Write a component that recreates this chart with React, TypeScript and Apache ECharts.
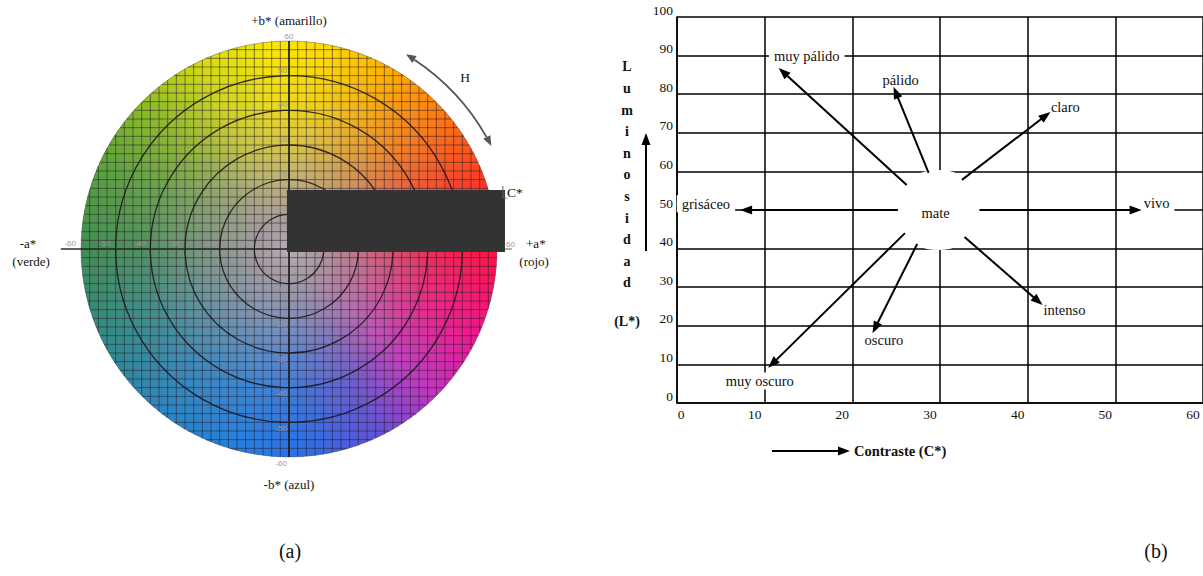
import React, { useEffect, useRef } from "react";
import * as echarts from "echarts";

const SERIF = '"Liberation Serif", "Times New Roman", serif';

// ---------- (a) a*b* chromaticity plane ----------
const abLimit = 60;
const abCell = 2.5;
const chromaRings = [10, 20, 30, 40, 50];
const abTicks = [10, 20, 30, 40, 50, 60];
const neutralTone = "#a69ca1";
// hue angle (degrees, counter-clockwise from +a*) -> saturated colour at the rim
const hueStops: [number, string][] = [
  [0, "#ff1242"],
  [20, "#ff3a22"],
  [40, "#ff7410"],
  [60, "#ffae00"],
  [80, "#ffdc00"],
  [95, "#fbe900"],
  [115, "#d4dc12"],
  [135, "#8cbc22"],
  [155, "#5aa43a"],
  [180, "#3f8e52"],
  [205, "#2f8c86"],
  [230, "#2a86bc"],
  [255, "#2280e2"],
  [275, "#2a6ee6"],
  [295, "#5e52d8"],
  [315, "#c232c2"],
  [335, "#f0168e"],
  [360, "#ff1242"],
];
// radial fraction -> share of the rim colour
const chromaRamp: [number, number][] = [
  [0, 0],
  [0.12, 0],
  [0.33, 0.28],
  [0.5, 0.55],
  [0.7, 0.82],
  [1, 1],
];

// ---------- (b) lightness / chroma tone diagram ----------
const toneNames = ["grisáceo", "vivo", "muy pálido", "pálido", "claro", "intenso", "oscuro", "muy oscuro"];
const arrowFrom: [number, number][] = [
  [25.2, 50],
  [34.5, 50],
  [26.2, 56.5],
  [28.7, 59.6],
  [32.5, 57.8],
  [32.8, 43.0],
  [27.4, 41.2],
  [26.0, 44.0],
];
const arrowTo: [number, number][] = [
  [7.2, 50],
  [53.0, 50],
  [11.6, 86.8],
  [24.7, 81.9],
  [42.6, 75.4],
  [41.7, 25.4],
  [22.3, 18.1],
  [10.4, 9.1],
];
const toneLabelAt: [number, number][] = [
  [3.3, 51.6],
  [54.7, 51.8],
  [14.8, 90],
  [25.5, 83.7],
  [44.3, 76.7],
  [44.2, 24.1],
  [23.6, 16.3],
  [9.45, 5.7],
];
const mateAt: [number, number] = [29.8, 50];
const mateLabelAt: [number, number] = [29.5, 49.2];

type RGB = [number, number, number];
const rgbOf = (h: string): RGB => {
  const n = parseInt(h.slice(1), 16);
  return [(n >> 16) & 255, (n >> 8) & 255, n & 255];
};
const lerp = (a: RGB, b: RGB, t: number): RGB => [
  a[0] + (b[0] - a[0]) * t,
  a[1] + (b[1] - a[1]) * t,
  a[2] + (b[2] - a[2]) * t,
];
const css = (c: RGB) => `rgb(${Math.round(c[0])},${Math.round(c[1])},${Math.round(c[2])})`;
const hueColor = (deg: number): RGB => {
  for (let i = 1; i < hueStops.length; i++) {
    const [d1, c1] = hueStops[i];
    const [d0, c0] = hueStops[i - 1];
    if (deg <= d1) return lerp(rgbOf(c0), rgbOf(c1), (deg - d0) / (d1 - d0));
  }
  return rgbOf(hueStops[0][1]);
};

const gridInk = "rgba(45,30,45,0.55)";
const ringInk = "rgba(25,20,25,0.85)";
const tickInk = "#9a9a9a";

function renderWheel(_p: any, api: any) {
  const c = api.coord([0, 0]);
  const R = api.coord([abLimit, 0])[0] - c[0];
  const u = R / abLimit;
  const kids: any[] = [];
  const neutral = rgbOf(neutralTone);

  // colour disc: thin angular slices, each shaded from the neutral centre to its hue
  const N = 180;
  const step = (Math.PI * 2) / N;
  for (let i = 0; i < N; i++) {
    const phi0 = i * step;
    const mid = phi0 + step / 2;
    const hue = ((((-mid * 180) / Math.PI) % 360) + 360) % 360;
    const rim = hueColor(hue);
    const stops = chromaRamp.map(([o, t]) => ({ offset: o, color: css(lerp(neutral, rim, t)) }));
    kids.push({
      type: "sector",
      shape: { cx: c[0], cy: c[1], r0: 0, r: R, startAngle: phi0, endAngle: phi0 + step * 1.6, clockwise: true },
      style: { fill: new echarts.graphic.RadialGradient(c[0], c[1], R, stops, true) },
    });
  }

  // fine square grid clipped to the disc
  for (let k = -abLimit + abCell; k < abLimit - 1e-6; k += abCell) {
    const h = Math.sqrt(abLimit * abLimit - k * k);
    const a = api.coord([k, -h]);
    const b = api.coord([k, h]);
    kids.push({ type: "line", shape: { x1: a[0], y1: a[1], x2: b[0], y2: b[1] }, style: { stroke: gridInk, lineWidth: 1 } });
    const d = api.coord([-h, k]);
    const e = api.coord([h, k]);
    kids.push({ type: "line", shape: { x1: d[0], y1: d[1], x2: e[0], y2: e[1] }, style: { stroke: gridInk, lineWidth: 1 } });
  }

  // chroma rings and rim
  chromaRings.forEach((v) => {
    kids.push({ type: "circle", shape: { cx: c[0], cy: c[1], r: v * u }, style: { fill: "none", stroke: ringInk, lineWidth: 1.3 } });
  });
  kids.push({ type: "circle", shape: { cx: c[0], cy: c[1], r: R }, style: { fill: "none", stroke: "rgba(90,80,90,0.55)", lineWidth: 0.8 } });

  // a* and b* axes
  const top = api.coord([0, abLimit]);
  const bot = api.coord([0, -abLimit]);
  kids.push({ type: "line", shape: { x1: top[0], y1: top[1], x2: bot[0], y2: bot[1] }, style: { stroke: "#1c1c1c", lineWidth: 1.6 } });
  const left = api.coord([-65.8, 0]);
  const right = api.coord([abLimit, 0]);
  const rightEnd = api.coord([64.3, 0]);
  kids.push({ type: "line", shape: { x1: left[0], y1: left[1], x2: right[0], y2: right[1] }, style: { stroke: "#2a2a2a", lineWidth: 1.6 } });
  kids.push({ type: "line", shape: { x1: right[0], y1: right[1], x2: rightEnd[0], y2: rightEnd[1] }, style: { stroke: "#9a9a9a", lineWidth: 1.6 } });

  // small grey scale numbers
  const tick = (text: string, p: number[], align: string, vAlign: string) =>
    kids.push({
      type: "text",
      x: p[0],
      y: p[1],
      style: { text, fill: tickInk, fontSize: 8, fontFamily: "Arial, sans-serif", align, verticalAlign: vAlign, textAlign: align, textVerticalAlign: vAlign },
    });
  abTicks.forEach((v) => {
    const pb = api.coord([0, v]);
    tick(String(v), v === abLimit ? [pb[0], pb[1] - 1] : [pb[0] - 2, pb[1] - 1.5], v === abLimit ? "center" : "right", "bottom");
    const nb = api.coord([0, -v]);
    tick(String(-v), [nb[0] - 2, nb[1] + 2], "right", "top");
    const na = api.coord([-v, 0]);
    tick(String(-v), [na[0] - 5, na[1] - 2], "right", "bottom");
    const pa = api.coord([v, 0]);
    tick(String(v), v === abLimit ? [pa[0] + 9, pa[1] - 1] : [pa[0] - 5, pa[1] - 2], v === abLimit ? "left" : "right", "bottom");
  });

  // dark box over the right half
  const r1 = api.coord([-0.6, 17.0]);
  const r2 = api.coord([62.3, -0.9]);
  kids.push({ type: "rect", shape: { x: r1[0], y: r1[1], width: r2[0] - r1[0], height: r2[1] - r1[1] }, style: { fill: "#333333" } });
  const k1 = api.coord([61.7, 18.2]);
  const k2 = api.coord([61.7, 14.7]);
  const k3 = api.coord([62.7, 14.7]);
  kids.push({ type: "polyline", shape: { points: [k1, k2, k3] }, style: { stroke: "#666", lineWidth: 1, fill: "none" } });

  // hue arrow (double headed arc)
  const ar = 65.5 * u;
  const hFrom = 27;
  const hTo = 59;
  const rad = (d: number) => (d * Math.PI) / 180;
  const headLen = 10;
  const dA = (headLen / ar) * (180 / Math.PI);
  kids.push({
    type: "arc",
    shape: { cx: c[0], cy: c[1], r: ar, startAngle: -rad(hTo - dA), endAngle: -rad(hFrom + dA), clockwise: true },
    style: { stroke: "#555", lineWidth: 1.8, fill: "none" },
  });
  const head = (deg: number, sign: number) => {
    const t = rad(deg);
    const tip = [c[0] + ar * Math.cos(t), c[1] - ar * Math.sin(t)];
    const dir = [-Math.sin(t) * sign, -Math.cos(t) * sign];
    const base = [tip[0] - dir[0] * headLen, tip[1] - dir[1] * headLen];
    const n = [dir[1], -dir[0]];
    kids.push({
      type: "polygon",
      shape: { points: [tip, [base[0] + n[0] * 4, base[1] + n[1] * 4], [base[0] - n[0] * 4, base[1] - n[1] * 4]] },
      style: { fill: "#555" },
    });
  };
  head(hTo, 1);
  head(hFrom, -1);

  // axis captions
  const note = (text: string, at: number[], align = "center", size = 13) => {
    const p = api.coord(at);
    kids.push({
      type: "text",
      x: p[0],
      y: p[1],
      style: { text, fill: "#111", fontSize: size, fontFamily: SERIF, align, verticalAlign: "middle", textAlign: align, textVerticalAlign: "middle" },
    });
  };
  note("+b* (amarillo)", [0, 66.05]);
  note("-b* (azul)", [0, -67.8]);
  note("-a*", [-75.3, 1.7]);
  note("(verde)", [-74.4, -3.5]);
  note("+a*", [71.2, 1.7]);
  note("(rojo)", [70.7, -3.5]);
  note("H", [50.8, 49.6], "center", 13.5);
  note("C*", [62.9, 16.4], "left", 13.5);

  return { type: "group", children: kids };
}

function renderArrow(_p: any, api: any) {
  const a = api.coord([api.value(0), api.value(1)]);
  const b = api.coord([api.value(2), api.value(3)]);
  const dx = b[0] - a[0];
  const dy = b[1] - a[1];
  const len = Math.hypot(dx, dy);
  const ux = dx / len;
  const uy = dy / len;
  const headLen = 12;
  const half = 4.5;
  const base = [b[0] - ux * headLen, b[1] - uy * headLen];
  return {
    type: "group",
    children: [
      { type: "line", shape: { x1: a[0], y1: a[1], x2: base[0] + ux * 2, y2: base[1] + uy * 2 }, style: { stroke: "#000", lineWidth: 2 } },
      {
        type: "polygon",
        shape: { points: [b, [base[0] - uy * half, base[1] + ux * half], [base[0] + uy * half, base[1] - ux * half]] },
        style: { fill: "#000" },
      },
    ],
  };
}

export default function App() {
  const ref = useRef<HTMLDivElement>(null);

  useEffect(() => {
    if (!ref.current) return;
    const chart = echarts.init(ref.current, undefined, { renderer: "svg" });
    const tickFont = { fontFamily: SERIF, fontSize: 13.5, color: "#111" };

    chart.setOption({
      animation: false,
      backgroundColor: "#ffffff",
      grid: [
        { left: 81, top: 41, width: 416, height: 416 },
        { left: 677, top: 17, width: 527, height: 386 },
      ],
      xAxis: [
        { gridIndex: 0, type: "value", min: -abLimit, max: abLimit, show: false },
        {
          gridIndex: 1,
          type: "value",
          min: 0,
          max: 60,
          interval: 10,
          axisLine: { show: true, lineStyle: { color: "#000", width: 1.5 } },
          axisTick: { show: false },
          splitLine: { show: true, lineStyle: { color: "#000", width: 1.5 } },
          axisLabel: {
            margin: 4,
            showMinLabel: true,
            showMaxLabel: true,
            ...tickFont,
            formatter: (v: number) => (v === 0 ? `{z|${v}}` : `{n|${v}}`),
            rich: {
              z: { ...tickFont, padding: [0, 0, 0, 8] },
              n: { ...tickFont, padding: [0, 20, 0, 0] },
            },
          },
        },
      ],
      yAxis: [
        { gridIndex: 0, type: "value", min: -abLimit, max: abLimit, show: false },
        {
          gridIndex: 1,
          type: "value",
          min: 0,
          max: 100,
          interval: 10,
          axisLine: { show: true, lineStyle: { color: "#000", width: 1.5 } },
          axisTick: { show: false },
          splitLine: { show: true, lineStyle: { color: "#000", width: 1.5 } },
          axisLabel: { margin: 4, verticalAlign: "bottom", showMinLabel: true, showMaxLabel: true, ...tickFont },
        },
      ],
      series: [
        {
          type: "custom",
          name: "a*b*",
          coordinateSystem: "cartesian2d",
          xAxisIndex: 0,
          yAxisIndex: 0,
          clip: false,
          silent: true,
          data: [[0, 0]],
          renderItem: renderWheel,
        },
        {
          type: "scatter",
          name: "mate-area",
          xAxisIndex: 1,
          yAxisIndex: 1,
          z: 3,
          silent: true,
          symbol: "circle",
          symbolSize: [94, 80],
          itemStyle: { color: "#ffffff", opacity: 1 },
          data: [mateAt],
        },
        {
          type: "scatter",
          name: "tonos",
          xAxisIndex: 1,
          yAxisIndex: 1,
          z: 4,
          silent: true,
          symbolSize: 1,
          itemStyle: { color: "rgba(0,0,0,0)", opacity: 1 },
          label: {
            show: true,
            position: "inside",
            formatter: "{b}",
            fontFamily: SERIF,
            fontSize: 14.5,
            color: "#111",
            opacity: 1,
            backgroundColor: "#ffffff",
            padding: [1, 5],
          },
          data: [
            ...toneNames.map((n, i) => ({ name: n, value: toneLabelAt[i] })),
            { name: "mate", value: mateLabelAt },
          ],
        },
        {
          type: "custom",
          name: "flechas",
          coordinateSystem: "cartesian2d",
          xAxisIndex: 1,
          yAxisIndex: 1,
          z: 5,
          clip: false,
          silent: true,
          encode: { x: [0, 2], y: [1, 3] },
          data: toneNames.map((_, i) => [...arrowFrom[i], ...arrowTo[i]]),
          renderItem: renderArrow,
        },
      ],
      graphic: [
        {
          type: "text",
          x: 627,
          y: 56,
          style: {
            text: "L\nu\nm\ni\nn\no\ns\ni\nd\na\nd",
            font: `bold 14px ${SERIF}`,
            lineHeight: 21.6,
            fill: "#111",
            align: "center",
            verticalAlign: "top",
            textAlign: "center",
            textVerticalAlign: "top",
          },
        },
        {
          type: "text",
          x: 627,
          y: 321,
          style: { text: "(L*)", font: `bold 14px ${SERIF}`, fill: "#111", align: "center", verticalAlign: "middle", textAlign: "center", textVerticalAlign: "middle" },
        },
        { type: "line", shape: { x1: 646, y1: 251, x2: 646, y2: 143 }, style: { stroke: "#000", lineWidth: 2 } },
        { type: "polygon", shape: { points: [[646, 133], [641.5, 145], [650.5, 145]] }, style: { fill: "#000" } },
        { type: "line", shape: { x1: 772, y1: 451, x2: 840, y2: 451 }, style: { stroke: "#000", lineWidth: 2 } },
        { type: "polygon", shape: { points: [[850, 451], [838, 446.5], [838, 455.5]] }, style: { fill: "#000" } },
        {
          type: "text",
          x: 854,
          y: 451,
          style: { text: "Contraste (C*)", font: `bold 14.5px ${SERIF}`, fill: "#111", align: "left", verticalAlign: "middle", textAlign: "left", textVerticalAlign: "middle" },
        },
        {
          type: "text",
          x: 290,
          y: 551,
          style: { text: "(a)", font: `20px ${SERIF}`, fill: "#111", align: "center", verticalAlign: "middle", textAlign: "center", textVerticalAlign: "middle" },
        },
        {
          type: "text",
          x: 1156,
          y: 551,
          style: { text: "(b)", font: `20px ${SERIF}`, fill: "#111", align: "center", verticalAlign: "middle", textAlign: "center", textVerticalAlign: "middle" },
        },
      ],
    });

    return () => chart.dispose();
  }, []);

  return <div ref={ref} style={{ position: "absolute", left: 0, top: 0, width: 1203, height: 576 }} />;
}
